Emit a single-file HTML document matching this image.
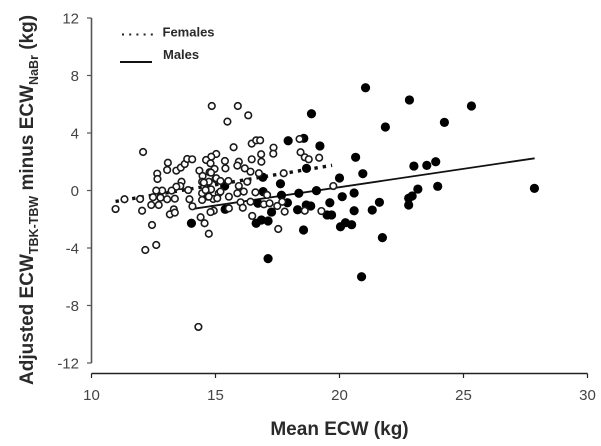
<!DOCTYPE html>
<html>
<head>
<meta charset="utf-8">
<title>Adjusted ECW difference vs mean ECW</title>
<style>
html,body{margin:0;padding:0;background:#fff;width:601px;height:446px;overflow:hidden}
svg{display:block;filter:blur(0.35px)}
text{font-family:"Liberation Sans",Arial,sans-serif}
</style>
</head>
<body>
<svg id="chart" xmlns="http://www.w3.org/2000/svg" width="601" height="446" viewBox="0 0 601 446">
<rect width="601" height="446" fill="#fff"/>
<text transform="translate(33,385) rotate(-90)" font-size="19" font-weight="bold" fill="#2a2a2a">Adjusted ECW<tspan font-size="12.5" dy="5">TBK-TBW</tspan><tspan dy="-5"> minus ECW</tspan><tspan font-size="12.5" dy="5">NaBr</tspan><tspan dy="-5"> (kg)</tspan></text>
<text x="339.5" y="435" text-anchor="middle" font-size="19" font-weight="bold" fill="#2a2a2a">Mean ECW (kg)</text>
<g id="plot"></g>
<g>
<line x1="122" y1="34.5" x2="153" y2="34.5" stroke="#222" stroke-width="2" stroke-dasharray="2 5.2"/>
<text x="162.5" y="36.5" font-size="13" font-weight="bold" fill="#2a2a2a">Females</text>
<line x1="120" y1="62" x2="152" y2="62" stroke="#111" stroke-width="2"/>
<text x="163" y="59" font-size="13" font-weight="bold" fill="#2a2a2a">Males</text>
</g>
</svg>
<script>
const xTickLabels = [10, 15, 20, 25, 30];
const yTickLabels = [12, 8, 4, 0, -4, -8, -12];

const maleX = [21.05,22.82,25.32,21.85,24.23,20.65,20.94,20.0,23.0,23.52,23.88,23.96,27.86,23.16,22.93,22.79,22.79,21.61,21.32,20.59,20.11,20.59,20.49,20.24,20.04,21.73,20.89,18.87,18.56,17.93,19.21,18.67,17.62,16.91,16.92,17.66,18.36,19.07,19.61,17.90,16.71,18.31,18.66,18.84,19.50,19.68,17.26,17.12,16.85,16.64,18.55,17.12,15.39,14.03,15.37];
const maleY = [7.15,6.30,5.88,4.42,4.74,2.31,1.17,0.87,1.70,1.75,2.00,0.29,0.15,0.10,-0.38,-0.54,-1.01,-0.82,-1.36,-0.17,-0.43,-1.41,-2.38,-2.24,-2.52,-3.28,-6.0,5.34,3.63,3.46,3.10,1.54,0.47,0.92,-0.08,-0.33,-0.19,-0.01,-0.85,-0.85,-0.89,-1.34,-1.01,-1.08,-1.70,-1.70,-1.50,-2.12,-2.05,-2.28,-2.75,-4.74,-1.31,-2.28,0.31];

const femaleX = [12.08,13.08,13.05,13.42,13.60,13.76,13.86,14.06,14.35,12.65,12.66,13.63,13.58,13.42,13.23,12.85,12.61,12.78,13.05,13.36,12.48,12.41,12.71,11.33,11.96,10.97,12.04,13.32,13.16,13.36,12.44,12.61,12.17,13.95,14.07,14.40,14.56,14.48,14.46,14.46,14.73,14.93,14.80,15.03,14.83,14.62,14.80,14.96,14.76,15.0,14.82,14.69,14.91,15.13,14.85,15.90,16.32,15.48,15.73,16.46,16.64,16.80,17.34,17.33,16.84,16.85,16.46,15.38,15.94,15.40,15.88,16.41,16.18,16.28,15.94,16.14,15.88,14.73,14.60,15.20,15.54,15.07,14.46,16.61,16.75,17.75,17.08,16.95,16.41,16.01,16.10,15.54,16.48,17.53,17.79,17.18,17.69,17.49,18.39,18.43,18.60,18.76,19.18,19.75,19.27,18.60,14.31,14.53,14.73,15.03,14.82,15.2,15.52,13.9];
const femaleY = [2.68,1.93,1.43,1.38,1.59,1.84,2.19,2.17,1.38,1.17,0.80,0.61,0.31,0.26,-0.01,-0.01,-0.01,-0.50,-0.61,-0.57,-0.47,-1.01,-1.01,-0.61,-0.59,-1.29,-1.41,-1.31,-1.66,-1.54,-2.40,-3.79,-4.14,-0.61,-1.10,-1.86,-2.28,1.01,0.61,-0.19,-3.01,-1.41,-1.50,2.54,2.35,2.12,1.89,1.50,1.27,0.80,0.08,-0.43,-0.59,-0.19,5.88,5.88,5.23,4.79,3.01,3.26,3.49,3.49,2.98,2.56,2.52,2.00,2.17,2.05,2.00,1.54,1.73,1.31,1.54,0.61,0.31,-0.08,-0.19,0.61,0.03,-0.08,-0.43,-0.54,-0.66,-0.13,1.20,1.20,-0.31,-0.96,-0.78,-0.82,-1.20,-1.24,-1.77,-2.68,-1.47,-0.89,-0.78,-1.08,3.58,2.66,2.31,2.17,2.28,0.31,-1.43,-1.41,-9.49,0.55,-0.43,0.85,1.24,0.66,0.66,0.03];

const maleFitX = [14.0, 27.87];
const maleFitY = [-1.3, 2.24];
const femaleFitX = [10.97, 19.7];
const femaleFitY = [-0.76, 1.75];

const NS = 'http://www.w3.org/2000/svg';
const plot = document.getElementById('plot');
function xScale(v) { return 91.5 + (v - 10) * 24.8; }
function yScale(v) { return 190.5 - v * 14.375; }
function make(tag, attrs, parent) {
  const el = document.createElementNS(NS, tag);
  for (const k in attrs) el.setAttribute(k, attrs[k]);
  parent.appendChild(el);
  return el;
}

yTickLabels.forEach(function (t) {
  const tick = make('line', {x1: 87, x2: 91.5, y1: yScale(t), y2: yScale(t), stroke: '#555', 'stroke-width': 1.2}, plot);
  
  
  const label = make('text', {x: 79, y: yScale(t) + 5.5, 'text-anchor': 'end', 'font-size': 15, fill: '#444'}, plot);
  label.textContent = t;
  
  
});
xTickLabels.forEach(function (t) {
  const tick = make('line', {x1: xScale(t), x2: xScale(t), y1: 373.5, y2: 378, stroke: '#222', 'stroke-width': 1.2}, plot);
  
  
  const label = make('text', {x: xScale(t), y: 400, 'text-anchor': 'middle', 'font-size': 15, fill: '#444'}, plot);
  label.textContent = t;
  
  
});

const yAxis = make('line', {x1: 91.5, x2: 91.5, y1: yScale(12), y2: yScale(-12), stroke: '#555', 'stroke-width': 1.6}, plot);


const xAxis = make('line', {x1: xScale(10), x2: xScale(30), y1: 373.5, y2: 373.5, stroke: '#222', 'stroke-width': 1.4}, plot);



const femaleFit = make('line', {x1: xScale(femaleFitX[0]), y1: yScale(femaleFitY[0]), x2: xScale(femaleFitX[1]), y2: yScale(femaleFitY[1]), stroke: '#111', 'stroke-width': 3.4, 'stroke-dasharray': '3.4 5'}, plot);


const maleFit = make('line', {x1: xScale(maleFitX[0]), y1: yScale(maleFitY[0]), x2: xScale(maleFitX[1]), y2: yScale(maleFitY[1]), stroke: '#111', 'stroke-width': 1.8}, plot);



maleX.forEach(function (v, i) {
  const p = make('circle', {cx: xScale(v), cy: yScale(maleY[i]), r: 4.6, fill: '#000'}, plot);
  
  
});
femaleX.forEach(function (v, i) {
  const p = make('circle', {cx: xScale(v), cy: yScale(femaleY[i]), r: 3.3, fill: '#fff', stroke: '#1a1a1a', 'stroke-width': 1.6}, plot);
  
  
});
</script>
</body>
</html>
